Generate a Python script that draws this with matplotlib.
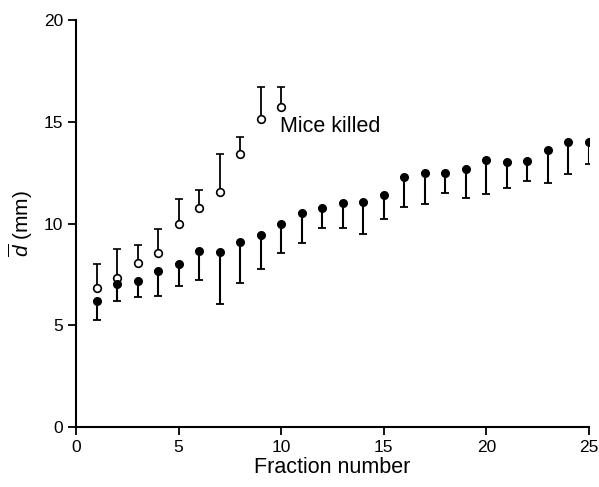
import matplotlib
matplotlib.use("Agg")
import matplotlib.pyplot as plt
import numpy as np

plt.rcParams['font.family'] = ['Liberation Sans', 'DejaVu Sans']
plt.rcParams['mathtext.fontset'] = 'custom'
plt.rcParams['mathtext.rm'] = 'Liberation Sans'
plt.rcParams['mathtext.it'] = 'Liberation Sans:italic'

# mice killed after fraction 10 (open circles, upper bar only)
open_x = [1, 2, 3, 4, 5, 6, 7, 8, 9, 10]
open_mean = [6.85, 7.32, 8.04, 8.53, 9.98, 10.78, 11.55, 13.4, 15.13, 15.74]
open_top = [8.01, 8.73, 8.93, 9.73, 11.19, 11.66, 13.43, 14.25, 16.69, 16.69]

# filled circles, lower bar only
filled_x = list(range(1, 26))
filled_mean = [6.21, 7.03, 7.2, 7.65, 8.03, 8.67, 8.62, 9.11, 9.45, 9.98,
               10.52, 10.75, 11.03, 11.07, 11.41, 12.28, 12.46, 12.46, 12.69, 13.12,
               13.02, 13.07, 13.63, 14.0, 13.99]
filled_bottom = [5.24, 6.21, 6.37, 6.46, 6.91, 7.24, 6.03, 7.08, 7.75, 8.53,
                 9.06, 9.77, 9.77, 9.51, 10.22, 10.79, 10.96, 11.5, 11.23, 11.46,
                 11.74, 12.09, 11.97, 12.41, 12.94]

xticks = [0, 5, 10, 15, 20, 25]
yticks = [0, 5, 10, 15, 20]

fig = plt.figure(figsize=(5.99, 4.87), dpi=100)
ax = fig.add_axes([0.127, 0.123, 0.856, 0.836])

om = np.array(open_mean)
fm = np.array(filled_mean)
ax.errorbar(open_x, om, yerr=[np.zeros(len(om)), np.array(open_top) - om],
            fmt='o', mfc='white', mec='black', mew=1.2, ms=5.5,
            ecolor='black', elinewidth=1.3, capsize=3, capthick=1.3, zorder=3)
ax.errorbar(filled_x, fm, yerr=[fm - np.array(filled_bottom), np.zeros(len(fm))],
            fmt='o', mfc='black', mec='black', ms=5.5,
            ecolor='black', elinewidth=1.5, capsize=3, capthick=1.3, zorder=3)

ax.text(9.95, 14.75, 'Mice killed', fontsize=15.5, va='center', ha='left')

ax.set_xlim(0, 25)
ax.set_ylim(0, 20)
ax.set_xticks(xticks)
ax.set_yticks(yticks)
ax.spines['top'].set_visible(False)
ax.spines['right'].set_visible(False)
ax.spines['left'].set_linewidth(1.5)
ax.spines['bottom'].set_linewidth(1.5)
ax.tick_params(direction='out', length=6, width=1.3, labelsize=12.5)
ax.set_xlabel('Fraction number', fontsize=15.5, labelpad=1)
ax.set_ylabel(r'$\overline{d}$ (mm)', fontsize=15, labelpad=6)

fig.savefig('out.png', dpi=100)
